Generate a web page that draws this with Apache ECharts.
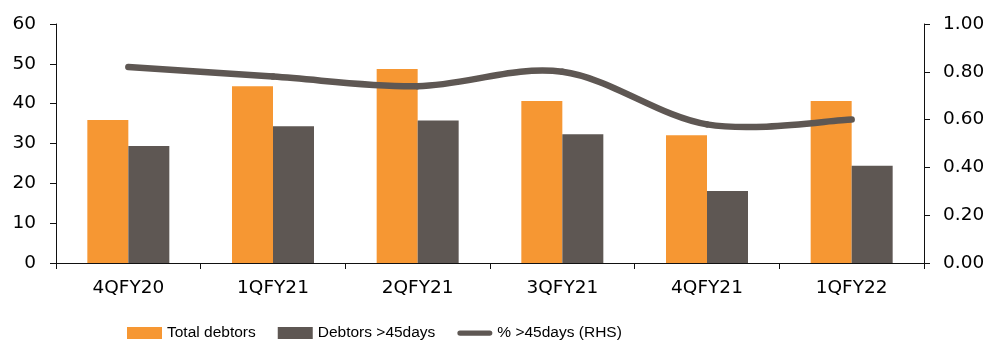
<!DOCTYPE html>
<html>
<head>
<meta charset="utf-8">
<script src="https://cdn.jsdelivr.net/npm/echarts@6/dist/echarts.min.js"></script>
<style>
  html, body { margin: 0; padding: 0; background: #fff; }
  #chart { width: 1000px; height: 347px; }
</style>
</head>
<body>
<div id="chart"></div>
<script>
// Quarterly debtor balances and share aged over 45 days
const quarters = ['4QFY20', '1QFY21', '2QFY21', '3QFY21', '4QFY21', '1QFY22'];
const totalDebtors = [35.9, 44.4, 48.7, 40.7, 32.1, 40.7];
const debtorsOver45 = [29.4, 34.3, 35.8, 32.3, 18.1, 24.4];
const shareOver45 = [0.82, 0.78, 0.74, 0.80, 0.58, 0.60];
const leftTicks = { min: 0, max: 60, interval: 10 };
const rightTicks = { min: 0, max: 1, interval: 0.2 };

const ORANGE = '#F69733';
const TAUPE = '#5E5753';
const AXIS_FONT = '"DejaVu Sans", Verdana, sans-serif';
const LEGEND_FONT = '"Liberation Sans Narrow", "Arial Narrow", "Liberation Sans", Arial, sans-serif';

const chart = echarts.init(document.getElementById('chart'), null, { renderer: 'canvas' });

const axisLine = { show: true, lineStyle: { color: '#111', width: 1 } };
const axisTick = { show: true, length: 6, lineStyle: { color: '#111', width: 1 } };
const tickLabel = { fontFamily: AXIS_FONT, fontSize: 18.5, color: '#000' };

// Smoothed ratio line: cardinal spline through each quarter's value
function renderShareLine(params, api) {
  if (params.dataIndex !== 0) return null;
  const pts = shareOver45.map((v, i) => api.coord([i, v]));
  const n = pts.length;
  const children = [];
  for (let i = 0; i < n - 1; i++) {
    const p0 = pts[Math.max(i - 1, 0)];
    const p1 = pts[i];
    const p2 = pts[i + 1];
    const p3 = pts[Math.min(i + 2, n - 1)];
    children.push({
      type: 'bezierCurve',
      shape: {
        x1: p1[0], y1: p1[1],
        x2: p2[0], y2: p2[1],
        cpx1: p1[0] + (p2[0] - p0[0]) / 6,
        cpy1: p1[1] + (p2[1] - p0[1]) / 6,
        cpx2: p2[0] - (p3[0] - p1[0]) / 6,
        cpy2: p2[1] - (p3[1] - p1[1]) / 6
      },
      style: { stroke: TAUPE, lineWidth: 6.5, fill: null, lineCap: 'round', lineJoin: 'round' }
    });
  }
  return { type: 'group', children: children };
}

chart.setOption({
  animation: false,
  backgroundColor: '#fff',
  grid: { left: 56, right: 76, top: 24, bottom: 84, containLabel: false },
  legend: {
    bottom: 1,
    left: 122,
    itemWidth: 35,
    itemHeight: 12,
    itemGap: 22,
    textStyle: { fontFamily: LEGEND_FONT, fontSize: 15.5, color: '#000' },
    data: [
      { name: 'Total debtors', icon: 'rect' },
      { name: 'Debtors >45days', icon: 'rect' },
      {
        name: '% >45days (RHS)',
        icon: 'path://M3,0 L37,0 A3,3 0 0 1 37,6 L3,6 A3,3 0 0 1 3,0 Z',
        itemStyle: { color: TAUPE }
      }
    ]
  },
  xAxis: {
    type: 'category',
    data: quarters,
    axisLine: axisLine,
    axisTick: { show: true, length: 6, lineStyle: { color: '#111' } },
    axisLabel: Object.assign({ margin: 16 }, tickLabel),
    splitLine: { show: false }
  },
  yAxis: [
    {
      type: 'value',
      min: leftTicks.min, max: leftTicks.max, interval: leftTicks.interval,
      axisLine: axisLine,
      axisTick: axisTick,
      axisLabel: Object.assign({ margin: 20 }, tickLabel),
      splitLine: { show: false }
    },
    {
      type: 'value',
      position: 'right',
      min: rightTicks.min, max: rightTicks.max, interval: rightTicks.interval,
      axisLine: axisLine,
      axisTick: axisTick,
      axisLabel: Object.assign({ margin: 19, formatter: v => v.toFixed(2) }, tickLabel),
      splitLine: { show: false }
    }
  ],
  series: [
    {
      name: 'Total debtors',
      type: 'bar',
      data: totalDebtors,
      barWidth: 41,
      barGap: '0%',
      itemStyle: { color: ORANGE }
    },
    {
      name: 'Debtors >45days',
      type: 'bar',
      data: debtorsOver45,
      barWidth: 41,
      barGap: '0%',
      itemStyle: { color: TAUPE }
    },
    {
      name: '% >45days (RHS)',
      type: 'custom',
      yAxisIndex: 1,
      data: shareOver45.map((v, i) => [i, v]),
      encode: { x: 0, y: 1 },
      itemStyle: { color: TAUPE },
      renderItem: renderShareLine,
      clip: false,
      z: 5
    }
  ]
});
</script>
</body>
</html>
